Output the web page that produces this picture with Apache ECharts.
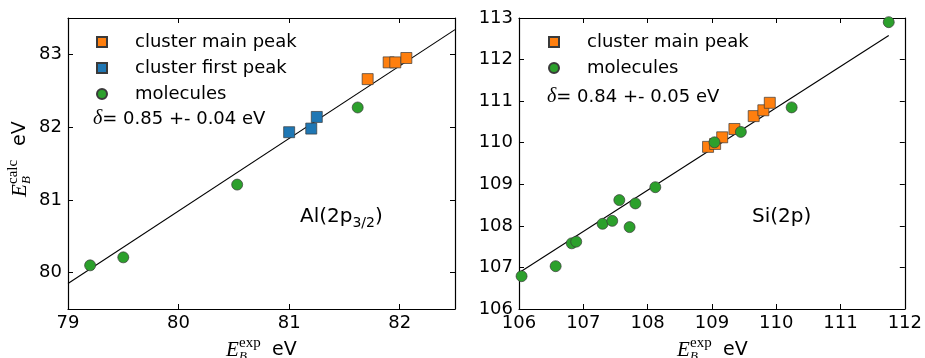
<!DOCTYPE html>
<html>
<head>
<meta charset="utf-8">
<script src="https://cdn.jsdelivr.net/npm/echarts@6/dist/echarts.min.js"></script>
<style>html,body{margin:0;padding:0;background:#fff}#c{width:925px;height:358px}</style>
</head>
<body>
<div id="c"></div>
<script>
// ---- Data: Al(2p3/2) panel ----
var alMainX  = [81.71, 81.90, 81.96, 82.06];
var alMainY  = [82.66, 82.89, 82.89, 82.95];
var alFirstX = [81.00, 81.20, 81.25];
var alFirstY = [81.93, 81.98, 82.14];
var alMolX   = [79.20, 79.50, 80.53, 81.62];
var alMolY   = [80.10, 80.21, 81.21, 82.27];
var alFitX   = [79.0, 82.5];
var alFitY   = [79.85, 83.34];
var alXTicks = [79, 80, 81, 82];
var alYTicks = [80, 81, 82, 83];

// ---- Data: Si(2p) panel ----
var siMainX = [108.94, 109.05, 109.16, 109.35, 109.65, 109.80, 109.90];
var siMainY = [109.90, 109.97, 110.13, 110.33, 110.64, 110.78, 110.96];
var siMolX  = [106.04, 106.57, 106.82, 106.89, 107.30, 107.45, 107.56, 107.72, 107.81, 108.12, 109.04, 109.45, 110.24, 111.75];
var siMolY  = [106.79, 107.03, 107.58, 107.62, 108.05, 108.12, 108.62, 107.97, 108.54, 108.93, 110.01, 110.26, 110.85, 112.90];
var siFitX  = [106.0, 111.75];
var siFitY  = [106.87, 112.58];
var siXTicks = [106, 107, 108, 109, 110, 111, 112];
var siYTicks = [106, 107, 108, 109, 110, 111, 112, 113];

var legendAl = ['cluster main peak', 'cluster first peak', 'molecules'];
var legendSi = ['cluster main peak', 'molecules'];
var deltaAl = '= 0.85 +- 0.04 eV';
var deltaSi = '= 0.84 +- 0.05 eV';
var labelAl = ['Al(2p', '3/2', ')'];
var labelSi = 'Si(2p)';

function pairs(xs, ys) { return xs.map(function (x, i) { return [x, ys[i]]; }); }

var SANS = 'DejaVu Sans';
var SERIF = 'Liberation Serif';
var ORANGE = '#ff7f0e', BLUE = '#1f77b4', GREEN = '#2ca02c';
var EDGE = '#3a3a3a';

function mkX(grid, min, max, ticks, pos) {
  var main = pos === 'bottom';
  return {
    type: 'value', gridIndex: grid, min: min, max: max, position: pos,
    axisLine: { show: true, onZero: false, lineStyle: { color: '#000', width: 1.2 } },
    axisTick: { show: true, inside: true, length: 5, customValues: ticks, lineStyle: { color: '#000', width: 1 } },
    axisLabel: { show: main, customValues: ticks, fontSize: 18, fontFamily: SANS, color: '#000', margin: 5 },
    splitLine: { show: false }
  };
}
function mkY(grid, min, max, ticks, pos) {
  var main = pos === 'left';
  return {
    type: 'value', gridIndex: grid, min: min, max: max, position: pos,
    axisLine: { show: true, onZero: false, lineStyle: { color: '#000', width: 1.2 } },
    axisTick: { show: true, inside: true, length: 5, customValues: ticks, lineStyle: { color: '#000', width: 1 } },
    axisLabel: { show: main, customValues: ticks, fontSize: 18, fontFamily: SANS, color: '#000', margin: 6 },
    splitLine: { show: false }
  };
}

function scatter(name, xi, yi, xs, ys, sym, color, size) {
  return {
    name: name, type: 'scatter', xAxisIndex: xi, yAxisIndex: yi,
    data: pairs(xs, ys), symbol: sym, symbolSize: size, z: 3,
    itemStyle: { color: color, borderColor: EDGE, borderWidth: 0.7, opacity: 1 },
    emphasis: { disabled: true }
  };
}
function fit(xi, yi, xs, ys) {
  return {
    type: 'line', xAxisIndex: xi, yAxisIndex: yi, data: pairs(xs, ys),
    showSymbol: false, symbol: 'none', z: 2, clip: true,
    lineStyle: { color: '#000', width: 1.1 }, emphasis: { disabled: true }
  };
}

// axis title: E_B^{sup} eV
function eTitle(sup, cx, cy, rot, offs) {
  return {
    type: 'group', x: cx, y: cy, rotation: rot, silent: true,
    children: [
      { type: 'text', x: offs[0], y: 0, style: { text: 'E', font: 'italic 21px ' + SERIF, fill: '#000', align: 'left', verticalAlign: 'middle' } },
      { type: 'text', x: offs[1], y: 7, style: { text: 'B', font: 'italic 13px ' + SERIF, fill: '#000', align: 'left', verticalAlign: 'middle' } },
      { type: 'text', x: offs[1], y: -7, style: { text: sup, font: '15px ' + SERIF, fill: '#000', align: 'left', verticalAlign: 'middle' } },
      { type: 'text', x: offs[2], y: 0, style: { text: 'eV', font: '19px ' + SANS, fill: '#000', align: 'left', verticalAlign: 'middle' } }
    ]
  };
}
function deltaText(x, y, t) {
  return {
    type: 'text', x: x, y: y, silent: true,
    style: {
      text: '{d|δ}{t|' + t + '}', align: 'left', verticalAlign: 'middle',
      rich: {
        d: { font: 'italic 20px ' + SERIF, fill: '#000' },
        t: { font: '18px ' + SANS, fill: '#000' }
      }
    }
  };
}

var legendCommon = {
  orient: 'vertical', top: 32, itemWidth: 10, itemHeight: 10, itemGap: 6, padding: 0,
  selectedMode: false,
  textStyle: { fontSize: 18, fontFamily: SANS, color: '#000', padding: [0, 0, 0, 23], lineHeight: 20 }
};

var option = {
  backgroundColor: '#fff',
  animation: false,
  grid: [
    { left: 68, top: 18, width: 387, height: 291 },
    { left: 519, top: 18, width: 386, height: 291 }
  ],
  xAxis: [
    mkX(0, 79, 82.5, alXTicks, 'bottom'), mkX(0, 79, 82.5, alXTicks, 'top'),
    mkX(1, 106, 112, siXTicks, 'bottom'), mkX(1, 106, 112, siXTicks, 'top')
  ],
  yAxis: [
    mkY(0, 79.5, 83.5, alYTicks, 'left'), mkY(0, 79.5, 83.5, alYTicks, 'right'),
    mkY(1, 106, 113, siYTicks, 'left'), mkY(1, 106, 113, siYTicks, 'right')
  ],
  legend: [
    Object.assign({}, legendCommon, { left: 96, data: legendAl }),
    Object.assign({}, legendCommon, { left: 548, data: legendSi })
  ],
  series: [
    fit(0, 0, alFitX, alFitY),
    scatter('cluster main peak', 0, 0, alMainX, alMainY, 'rect', ORANGE, 11),
    scatter('cluster first peak', 0, 0, alFirstX, alFirstY, 'rect', BLUE, 11),
    scatter('molecules', 0, 0, alMolX, alMolY, 'circle', GREEN, 11),
    fit(2, 2, siFitX, siFitY),
    scatter('cluster main peak', 2, 2, siMainX, siMainY, 'rect', ORANGE, 11),
    scatter('molecules', 2, 2, siMolX, siMolY, 'circle', GREEN, 11)
  ],
  graphic: [
    deltaText(93, 119, deltaAl),
    deltaText(547, 97, deltaSi),
    {
      type: 'text', x: 300, y: 217, silent: true,
      style: {
        text: '{n|' + labelAl[0] + '}{s|' + labelAl[1] + '}{n|' + labelAl[2] + '}',
        align: 'left', verticalAlign: 'middle',
        rich: {
          n: { font: '20px ' + SANS, fill: '#000', lineHeight: 26, verticalAlign: 'middle' },
          s: { font: '14px ' + SANS, fill: '#000', lineHeight: 13, verticalAlign: 'bottom' }
        }
      }
    },
    { type: 'text', x: 752, y: 217, silent: true, style: { text: labelSi, font: '20px ' + SANS, fill: '#000', align: 'left', verticalAlign: 'middle' } },
    eTitle('exp', 261, 350, 0, [-35, -22, 11]),
    eTitle('exp', 712, 350, 0, [-35, -22, 11]),
    eTitle('calc', 20, 160, Math.PI / 2, [-37, -24, 14])
  ]
};

var chart = echarts.init(document.getElementById('c'), null, { renderer: 'canvas' });
chart.setOption(option);
</script>
</body>
</html>
